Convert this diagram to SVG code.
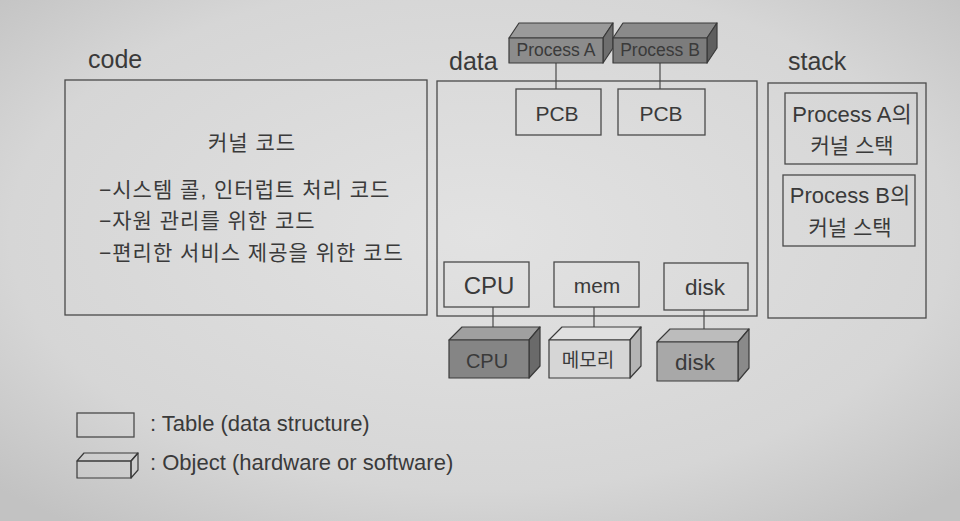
<svg xmlns="http://www.w3.org/2000/svg" width="960" height="521" viewBox="0 0 960 521">
<defs>
<radialGradient id="bg" cx="50%" cy="45%" r="70%">
<stop offset="0" stop-color="#e2e2e2"/>
<stop offset="0.7" stop-color="#d6d6d6"/>
<stop offset="1" stop-color="#c2c2c2"/>
</radialGradient>
<style>
text{font-family:"Liberation Sans","Noto Sans CJK KR",sans-serif;fill:#3a3a3a}
.lbl{font-size:25px}
.t{font-size:21px;text-anchor:middle}
.k{font-size:21px;letter-spacing:1px}
.box{fill:none;stroke:#4a4a4a;stroke-width:1.3}
.obj{stroke:#3a3a3a;stroke-width:1.2;stroke-linejoin:round}
.conn line{stroke:#4a4a4a;stroke-width:1.2}
.leg{font-size:22px}
</style>
</defs>
<rect width="960" height="521" fill="url(#bg)"/>

<g id="code">
<text class="lbl" x="88" y="68">code</text>
<rect class="box" x="65" y="80" width="362" height="235"/>
<text class="k" x="252" y="150" text-anchor="middle">커널 코드</text>
<text class="k" x="99" y="197">−시스템 콜, 인터럽트 처리 코드</text>
<text class="k" x="99" y="228">−자원 관리를 위한 코드</text>
<text class="k" x="99" y="260">−편리한 서비스 제공을 위한 코드</text>
</g>

<g id="data">
<text class="lbl" x="449" y="70">data</text>
<rect class="box" x="437" y="81" width="320" height="235"/>
</g>

<g id="stack">
<text class="lbl" x="788" y="70">stack</text>
<rect class="box" x="768" y="83" width="158" height="235"/>
</g>

<g id="stackA">
<rect class="box" x="785" y="93" width="132" height="71"/>
<text class="t" x="852" y="122" style="font-size:22px">Process A의</text>
<text class="t" x="852" y="153">커널 스택</text>
</g>
<g id="stackB">
<rect class="box" x="783" y="175" width="132" height="71"/>
<text class="t" x="850" y="203" style="font-size:22px">Process B의</text>
<text class="t" x="850" y="235">커널 스택</text>
</g>

<g class="conn" id="connectors">
<line x1="556" y1="63" x2="556" y2="89"/>
<line x1="660" y1="63" x2="660" y2="89"/>
<line x1="493" y1="307" x2="493" y2="327"/>
<line x1="594" y1="307" x2="594" y2="327"/>
<line x1="704" y1="310" x2="704" y2="330"/>
</g>

<g id="procA">
<polygon class="obj" fill="#9a9a9a" points="509,38 519,23 613,23 603,38"/>
<polygon class="obj" fill="#6e6e6e" points="603,38 613,23 613,48 603,63"/>
<rect class="obj" fill="#8c8c8c" x="509" y="38" width="94" height="25"/>
<text x="556" y="56" text-anchor="middle" style="font-size:17.5px">Process A</text>
</g>
<g id="procB">
<polygon class="obj" fill="#8a8a8a" points="613,38 623,23 717,23 707,38"/>
<polygon class="obj" fill="#5e5e5e" points="707,38 717,23 717,48 707,63"/>
<rect class="obj" fill="#7c7c7c" x="613" y="38" width="94" height="25"/>
<text x="660" y="56" text-anchor="middle" style="font-size:17.5px">Process B</text>
</g>

<g id="pcbA">
<rect class="box" x="516" y="89" width="85" height="46"/>
<text class="t" x="557" y="121" style="font-size:21px">PCB</text>
</g>
<g id="pcbB">
<rect class="box" x="618" y="89" width="87" height="46"/>
<text class="t" x="661" y="121" style="font-size:21px">PCB</text>
</g>

<g id="cpuT">
<rect class="box" x="444" y="262" width="85" height="45"/>
<text class="t" x="489" y="294" style="font-size:24px">CPU</text>
</g>
<g id="memT">
<rect class="box" x="554" y="262" width="85" height="45"/>
<text class="t" x="597" y="293" style="font-size:21px">mem</text>
</g>
<g id="diskT">
<rect class="box" x="664" y="263" width="84" height="47"/>
<text class="t" x="705" y="295" style="font-size:22.5px">disk</text>
</g>

<g id="cpuO">
<polygon class="obj" fill="#a0a0a0" points="449,340 462,327 540,327 529,340"/>
<polygon class="obj" fill="#6a6a6a" points="529,340 540,327 540,366 529,378"/>
<rect class="obj" fill="#858585" x="449" y="340" width="80" height="38"/>
<text class="t" x="487" y="368" style="font-size:20px">CPU</text>
</g>
<g id="memO">
<polygon class="obj" fill="#e0e0e0" points="549,340 562,327 641,327 630,340"/>
<polygon class="obj" fill="#b4b4b4" points="630,340 641,327 641,366 630,378"/>
<rect class="obj" fill="#d6d6d6" x="549" y="340" width="81" height="38"/>
<text class="t" x="588" y="367" style="font-size:19px">메모리</text>
</g>
<g id="diskO">
<polygon class="obj" fill="#bcbcbc" points="657,342 670,329 749,329 738,342"/>
<polygon class="obj" fill="#8a8a8a" points="738,342 749,329 749,368 738,381"/>
<rect class="obj" fill="#a8a8a8" x="657" y="342" width="81" height="39"/>
<text class="t" x="695" y="370" style="font-size:22.5px">disk</text>
</g>

<g id="legendTable">
<rect class="box" x="77" y="413" width="57" height="24"/>
<text class="leg" x="150" y="431">: Table (data structure)</text>
</g>
<g id="legendObject">
<polygon class="obj" fill="none" points="77,461 84,453 138,453 131,461"/>
<polygon class="obj" fill="none" points="131,461 138,453 138,470 131,478"/>
<rect class="obj" fill="none" x="77" y="461" width="54" height="17"/>
<text class="leg" x="150" y="470">: Object (hardware or software)</text>
</g>
</svg>
